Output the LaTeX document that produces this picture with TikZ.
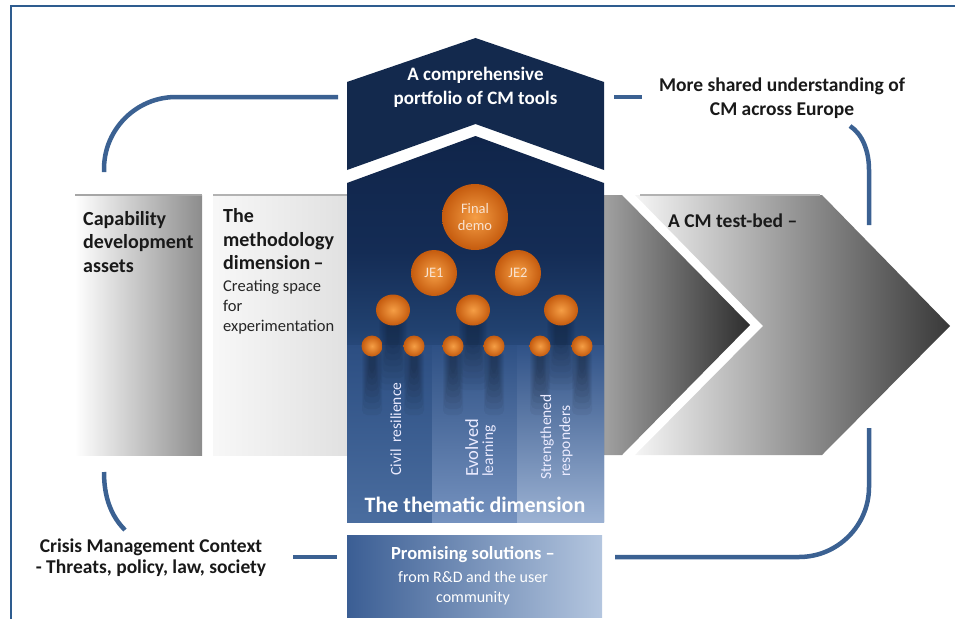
\documentclass[tikz,border=0pt]{standalone}
\usepackage{fontspec}
\setmainfont{Carlito}
\usetikzlibrary{shapes.geometric}

\definecolor{frameblue}{HTML}{2E5C8F}
\definecolor{linkblue}{HTML}{3B6192}
\definecolor{navy}{HTML}{13294D}
\definecolor{thTop}{HTML}{10254A}
\definecolor{thHigh}{HTML}{142C55}
\definecolor{thMid}{HTML}{21416F}
\definecolor{thLow}{HTML}{2C4E82}
\definecolor{thBot}{HTML}{5A7BAC}
\definecolor{orIn}{HTML}{F59E45}
\definecolor{orOut}{HTML}{C55B0E}
\definecolor{orText}{HTML}{F8E2D0}
\definecolor{solLeft}{HTML}{3B5E94}
\definecolor{solRight}{HTML}{B4C6DF}
\definecolor{colAtop}{HTML}{2C4E82}
\definecolor{colAbot}{HTML}{4A6D9F}
\definecolor{colBtop}{HTML}{2E5084}
\definecolor{colBbot}{HTML}{7592BF}
\definecolor{colCtop}{HTML}{305287}
\definecolor{colCbot}{HTML}{9CB2D3}

% vertical blend of the thematic column: dark navy above, lighter blue below
\pgfdeclareverticalshading{thematic}{100bp}{%
  color(0bp)=(thBot); color(25bp)=(thBot); color(46bp)=(thLow);
  color(50bp)=(thMid); color(60bp)=(thHigh); color(75bp)=(thTop); color(100bp)=(thTop)}

\begin{document}
\begin{tikzpicture}[x=1pt,y=-1pt,
  link/.style={draw=linkblue, line width=4.5pt},
  bigbold/.style={font=\bfseries\fontsize{20}{24}\selectfont, inner sep=0pt, text=black!90},
  bodytxt/.style={font=\fontsize{16.5}{20}\selectfont, inner sep=0pt, text=black!85},
  whitebold/.style={font=\bfseries\fontsize{19}{23}\selectfont, inner sep=0pt, text=white},
  coltxt/.style={font=\fontsize{15.5}{18}\selectfont, inner sep=0pt, text=white!92!blue, rotate=90, anchor=base},
  orb/.style={circle, shade, inner color=orIn, outer color=orOut, inner sep=0pt,
              font=\fontsize{14.5}{17}\selectfont, text=orText, align=center},
  smallorb/.style={ellipse, shade, inner color=orIn, outer color=orOut, inner sep=0pt},
  haze/.style={fill=black, opacity=0.045, rounded corners=5pt}
]
\useasboundingbox (0,0) rectangle (955,618);
\clip (0,0) rectangle (955,618);

% outer frame
\draw[frameblue, line width=2pt] (11,6) rectangle (1000,680);

% ---- grey flow band ----
\shade[left color=white, right color=black!45] (75,195) rectangle (202,455);
\draw[black!35, line width=2pt] (75,195) -- (202,195);
\shade[left color=black!3, right color=black!12] (213,195) rectangle (350,455);
\draw[black!30, line width=2pt] (213,195) -- (350,195);

% chevrons on the right
\shade[left color=black!35, right color=black!82]
  (598,195) -- (622,195) -- (750,325) -- (622,455) -- (598,455) -- cycle;
\shade[left color=black!4, right color=black!78]
  (635,195) -- (822,195) -- (950,326) -- (822,455) -- (635,455) -- (763,326) -- cycle;
\draw[black!30, line width=1.5pt] (640,195) -- (820,195);

% ---- central column ----
\fill[navy] (347,82) -- (475.5,38) -- (604,82) -- (604,170) -- (475.5,124) -- (347,170) -- cycle;
\shade[shading=thematic] (347,183) -- (475.5,136) -- (604,183) -- (604,522) -- (347,522) -- cycle;
% three thematic strands
\shade[top color=colAtop, bottom color=colAbot] (347,345) rectangle (432,522);
\shade[top color=colBtop, bottom color=colBbot] (432,345) rectangle (517,522);
\shade[top color=colCtop, bottom color=colCbot] (517,345) rectangle (604,522);

% soft shadows falling below the orbs (stacked thin layers)
\foreach \x in {372,414,453,494,540,582}
  \foreach \k in {0,...,7}
    \fill[haze] (\x-10+\k,350) rectangle (\x+10-\k,415-6*\k);
\foreach \x in {393,473,561}
  \foreach \k in {0,...,7}
    \fill[haze, opacity=0.035] (\x-14+1.2*\k,315) rectangle (\x+14-1.2*\k,390-6*\k);

% bottom box
\shade[left color=solLeft, right color=solRight] (347,535) rectangle (602,617);

% ---- orange nodes ----
\node[orb, minimum size=66pt] (final) at (475,217) {Final\\demo};
\node[orb, minimum size=46pt] (je1) at (434,273) {JE1};
\node[orb, minimum size=46pt] (je2) at (518,273) {JE2};
\foreach \n/\x in {a/393, b/473, c/561}
  \node[smallorb, minimum width=34pt, minimum height=31pt] (mid\n) at (\x,310) {};
\foreach \n/\x in {a/372, b/414, c/453, d/494, e/540, f/582}
  \node[smallorb, minimum width=21pt, minimum height=21pt] (low\n) at (\x,346) {};

% ---- connectors ----
\coordinate (tlA) at (104,172);
\coordinate (tlB) at (338,97);
\draw[link, rounded corners=72pt] (tlA) |- (tlB);
\coordinate (trA) at (614,97);
\coordinate (trB) at (642,97);
\draw[link] (trA) -- (trB);
\coordinate (rA) at (850,126);
\coordinate (rB) at (869,170);
\coordinate (rC) at (869,225);
\draw[link] (rA) .. controls (862,134) and (869,150) .. (rB) -- (rC);
\coordinate (brA) at (869,428);
\coordinate (brB) at (615,557);
\draw[link, rounded corners=70pt] (brA) |- (brB);
\coordinate (blA) at (104,472);
\coordinate (blB) at (125,530);
\draw[link] (blA) .. controls (104,497) and (111,516) .. (blB);
\coordinate (bmA) at (293,557);
\coordinate (bmB) at (337,557);
\draw[link] (bmA) -- (bmB);

% ---- texts ----
\node[whitebold, anchor=base] (port1) at (475.5,80) {A comprehensive};
\node[whitebold, anchor=base] (port2) at (475.5,104) {portfolio of CM tools};

\node[bigbold, font=\bfseries\fontsize{19.5}{23}\selectfont, anchor=base] (eur1) at (782,92) {More shared understanding of};
\node[bigbold, font=\bfseries\fontsize{19.5}{23}\selectfont, anchor=base] (eur2) at (782,115) {CM across Europe};

\node[bigbold, anchor=base west] (cap1) at (83,225) {Capability};
\node[bigbold, anchor=base west] (cap2) at (83,248) {development};
\node[bigbold, anchor=base west] (cap3) at (83,272) {assets};

\node[bigbold, anchor=base west] (met1) at (223,222) {The};
\node[bigbold, anchor=base west] (met2) at (223,246) {methodology};
\node[bigbold, anchor=base west] (met3) at (223,269) {dimension\,--};
\node[bodytxt, anchor=base west] (met4) at (223,291) {Creating space};
\node[bodytxt, anchor=base west] (met5) at (223,311) {for};
\node[bodytxt, anchor=base west] (met6) at (223,331) {experimentation};

\node[bigbold, font=\bfseries\fontsize{19.5}{23}\selectfont, anchor=base west] (bed) at (668,227) {A CM test-bed --};

\node[coltxt] (civ) at (401,429) {Civil\ \ resilience};
\node[coltxt, font=\fontsize{18.5}{20}\selectfont] (evo1) at (478,448) {Evolved};
\node[coltxt] (evo2) at (493,451) {learning};
\node[coltxt] (str1) at (551,437) {Strengthened};
\node[coltxt] (str2) at (570,441) {responders};

\node[whitebold, font=\bfseries\fontsize{22}{26}\selectfont, anchor=base] (them) at (475,512) {The thematic dimension};

\node[bigbold, font=\bfseries\fontsize{19.5}{23}\selectfont, anchor=base] (cri1) at (151,552) {Crisis Management Context};
\node[bigbold, font=\bfseries\fontsize{19.5}{23}\selectfont, anchor=base] (cri2) at (151,573) {- Threats, policy, law, society};

\node[whitebold, font=\bfseries\fontsize{18.5}{22}\selectfont, anchor=base] (pro1) at (473,559) {Promising solutions --};
\node[whitebold, font=\fontsize{16}{19}\selectfont, anchor=base] (pro2) at (473,582) {from R\&D and the user};
\node[whitebold, font=\fontsize{16}{19}\selectfont, anchor=base] (pro3) at (473,602) {community};
\end{tikzpicture}
\end{document}
